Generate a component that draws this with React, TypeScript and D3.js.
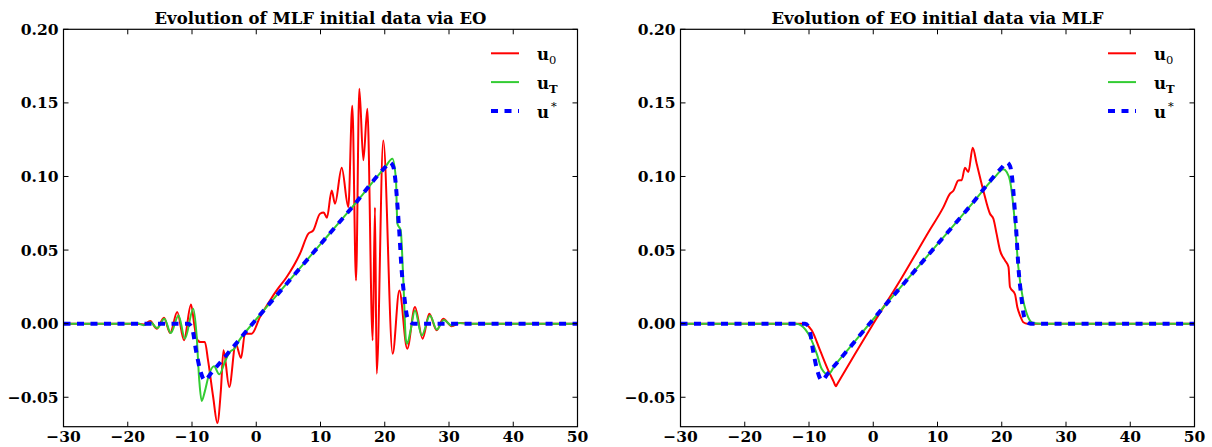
import React from "react";
import * as d3 from "d3";

type P = [number, number];

const xTicks = [-30, -20, -10, 0, 10, 20, 30, 40, 50];
const yTicks = [-0.05, 0, 0.05, 0.1, 0.15, 0.2];
const titles = ["Evolution of MLF initial data via EO", "Evolution of EO initial data via MLF"];

// target state u* (same in both panels)
const uStar: P[] = [
  [-30, 0], [-10.6, 0], [-10.0, -0.003], [-9.3, -0.02], [-8.7, -0.032], [-8.0, -0.0385],
  [-7.0, -0.0335], [-4, -0.018], [0, 0.003], [5, 0.0285], [10, 0.054], [15, 0.0795],
  [20, 0.106], [20.8, 0.1095], [21.3, 0.107], [21.6, 0.0996], [22.0, 0.079], [22.3, 0.06],
  [22.6, 0.038], [23.0, 0.02], [23.5, 0.0045], [24.0, 0.001], [24.5, 0], [50, 0],
];

// left panel: MLF initial data
const leftU0: P[] = [
  [-30, 0], [-19, 0], [-17.5, -0.0005], [-16.5, 0.0018], [-15.5, -0.0034], [-14.36, 0.004],
  [-13.4, -0.0064], [-12.3, 0.0079], [-11.25, -0.0113], [-10.16, 0.0131], [-9.6, -0.002],
  [-9.27, -0.0102], [-8.7, -0.0125], [-8.0, -0.0125], [-7.5, -0.025], [-6.7, -0.05],
  [-6.06, -0.0675], [-5.5, -0.045], [-5.1, -0.018], [-4.2, -0.043], [-3.2, -0.0136],
  [-2.37, -0.0233], [-1.75, -0.0068], [-0.71, -0.0068], [0.58, 0.0045], [2.14, 0.0158],
  [3.18, 0.0226], [4.74, 0.0317], [6.8, 0.0475], [8.1, 0.0611], [8.88, 0.0634], [9.92, 0.0747],
  [10.5, 0.0755], [11.0, 0.072], [11.74, 0.0905], [12.26, 0.0815], [13.3, 0.106], [14.33, 0.0792],
  [14.95, 0.148], [15.53, 0.0294], [16.04, 0.1596], [16.67, 0.111], [17.29, 0.146], [18.12, -0.0113],
  [18.48, 0.079], [18.74, -0.034], [19.77, 0.1245], [21.23, -0.0204], [22.27, 0.0226],
  [23.5, -0.017], [24.7, 0.0113], [25.9, -0.0102], [26.93, 0.0068], [28.08, -0.0045],
  [29.1, 0.0034], [30.4, -0.0017], [31.7, 0.0005], [33, 0], [50, 0],
];
const leftUT: P[] = [
  [-30, 0], [-20, 0], [-18.6, 0.0004], [-17.5, -0.001], [-16.5, 0.001], [-15.4, -0.003],
  [-14.3, 0.0034], [-13.3, -0.0064], [-12.1, 0.0056], [-11.1, -0.0102], [-9.8, 0.0102],
  [-9.3, -0.007], [-8.87, -0.0385], [-8.5, -0.0525], [-8.0, -0.046], [-7.46, -0.0362],
  [-6.58, -0.029], [-5.75, -0.0344], [-4.8, -0.025], [-4.1, -0.0192], [-3.4, -0.017],
  [-2.6, -0.011], [-2, -0.0075], [0, 0.003], [5, 0.0285], [10, 0.054], [15, 0.0795],
  [20, 0.106], [21.2, 0.112], [21.75, 0.0973], [21.96, 0.068], [22.48, 0.0634], [22.89, 0.0294],
  [23.3, -0.0113], [23.5, -0.0136], [24.0, -0.005], [24.7, 0.009], [25.75, -0.008],
  [27.04, 0.0056], [28.1, -0.004], [29.2, 0.0025], [30.4, -0.0012], [31.5, 0.0004], [33, 0], [50, 0],
];

// right panel: EO initial data
const rightU0: P[] = [
  [-30, 0], [-11, 0], [-10.5, -0.0005], [-9.58, -0.0045], [-8.29, -0.018], [-7.0, -0.0317],
  [-6.2, -0.039], [-5.8, -0.0425], [-5.6, -0.041], [0, 0.0], [4.2, 0.0295], [8.7, 0.063], [10.9, 0.079],
  [11.95, 0.0883], [12.5, 0.0905], [13.24, 0.0973], [13.76, 0.0975], [14.28, 0.106], [14.8, 0.103],
  [15.48, 0.1195], [16.1, 0.1087], [17.13, 0.0905], [18.17, 0.0747], [18.7, 0.0713], [19.2, 0.061],
  [19.73, 0.0498], [20.5, 0.043], [21.05, 0.0385], [21.28, 0.0249], [22.06, 0.02], [22.42, 0.0113],
  [22.84, 0.0057], [23.36, 0.001], [24, 0], [50, 0],
];
const rightUT: P[] = [
  [-30, 0], [-12, 0], [-11.3, -0.001], [-9.84, -0.009], [-8.8, -0.0204], [-8.03, -0.0306],
  [-7.0, -0.0345], [-6, -0.0285], [-4, -0.018], [0, 0.003], [5, 0.0285], [10, 0.054],
  [15, 0.0795], [19, 0.1], [20.24, 0.105], [20.77, 0.103], [21.28, 0.0973], [22.06, 0.068],
  [22.58, 0.0385], [23.35, 0.0158], [24.1, 0.0045], [24.9, 0.0005], [26, 0], [50, 0],
];

const RED = "#ff0000";
const GREEN = "#33cc33";
const BLUE = "#0000ff";
const FONT = "'DejaVu Serif', serif";

const TOP = 29.3;
const BOTTOM = 426.7;

function Panel({ x0, x1, title, u0, uT }: { x0: number; x1: number; title: string; u0: P[]; uT: P[] }) {
  const xs = d3.scaleLinear().domain([-30, 50]).range([x0, x1]);
  const ys = d3.scaleLinear().domain([-0.07, 0.2]).range([BOTTOM, TOP]);
  const line = d3
    .line<P>()
    .x((d) => xs(d[0]))
    .y((d) => ys(d[1]))
    .curve(d3.curveMonotoneX);
  const fy = d3.format(".2f");
  const fx = d3.format("d");
  const tl = 5;
  const legend = [
    { color: RED, dash: undefined as string | undefined, w: 2, base: "u", sub: "0", sup: "" },
    { color: GREEN, dash: undefined, w: 2, base: "u", sub: "T", sup: "" },
    { color: BLUE, dash: "7 6.5", w: 4, base: "u", sub: "", sup: "*" },
  ];
  return (
    <g>
      <defs>
        <clipPath id={`clip${x0}`}>
          <rect x={x0} y={TOP} width={x1 - x0} height={BOTTOM - TOP} />
        </clipPath>
      </defs>
      <text x={(x0 + x1) / 2} y={23.5} textAnchor="middle" fontFamily={FONT} fontWeight="bold" fontSize={16.5}>
        {title}
      </text>
      <g clipPath={`url(#clip${x0})`}>
        <path d={line(u0) || ""} fill="none" stroke={RED} strokeWidth={2} strokeLinejoin="round" />
        <path d={line(uT) || ""} fill="none" stroke={GREEN} strokeWidth={2} strokeLinejoin="round" />
        <path d={line(uStar) || ""} fill="none" stroke={BLUE} strokeWidth={4} strokeDasharray="7 6.5" />
      </g>
      <rect x={x0} y={TOP} width={x1 - x0} height={BOTTOM - TOP} fill="none" stroke="#000" strokeWidth={1.2} />
      {xTicks.map((t) => (
        <g key={`x${t}`}>
          <line x1={xs(t)} x2={xs(t)} y1={BOTTOM} y2={BOTTOM - tl} stroke="#000" strokeWidth={1} />
          <line x1={xs(t)} x2={xs(t)} y1={TOP} y2={TOP + tl} stroke="#000" strokeWidth={1} />
          <text x={xs(t)} y={441.5} textAnchor="middle" fontFamily={FONT} fontWeight="bold" fontSize={15.5}>
            {fx(t)}
          </text>
        </g>
      ))}
      {yTicks.map((t) => (
        <g key={`y${t}`}>
          <line x1={x0} x2={x0 + tl} y1={ys(t)} y2={ys(t)} stroke="#000" strokeWidth={1} />
          <line x1={x1} x2={x1 - tl} y1={ys(t)} y2={ys(t)} stroke="#000" strokeWidth={1} />
          <text x={x0 - 5} y={ys(t)} dy="0.36em" textAnchor="end" fontFamily={FONT} fontWeight="bold" fontSize={15.5}>
            {fy(t)}
          </text>
        </g>
      ))}
      {legend.map((l, i) => {
        const ly = TOP + 24 + i * 28.8;
        return (
          <g key={`l${i}`}>
            <line x1={x1 - 86.5} x2={x1 - 58.5} y1={ly} y2={ly} stroke={l.color} strokeWidth={l.w} strokeDasharray={l.dash} />
            <text x={x1 - 40.5} y={ly + 7} fontFamily={FONT} fontWeight="bold" fontSize={16.5} fill="#000">
              {l.base}
              {l.sub && (
                <tspan dy={4} fontSize={11.5} fontWeight={l.sub === "T" ? "bold" : "normal"} fill="#000">
                  {l.sub}
                </tspan>
              )}
              {l.sup && (
                <tspan dx={2} dy={-8} fontSize={11.5} fontWeight="normal" fill="#000">
                  {l.sup}
                </tspan>
              )}
            </text>
          </g>
        );
      })}
    </g>
  );
}

export default function App() {
  return (
    <svg
      width={1212}
      height={447}
      style={{ position: "absolute", left: 0, top: 0, background: "#fff" }}
    >
      <rect width={1212} height={447} fill="#fff" />
      <Panel x0={63.5} x1={577.5} title={titles[0]} u0={leftU0} uT={leftUT} />
      <Panel x0={680.5} x1={1194.5} title={titles[1]} u0={rightU0} uT={rightUT} />
    </svg>
  );
}
